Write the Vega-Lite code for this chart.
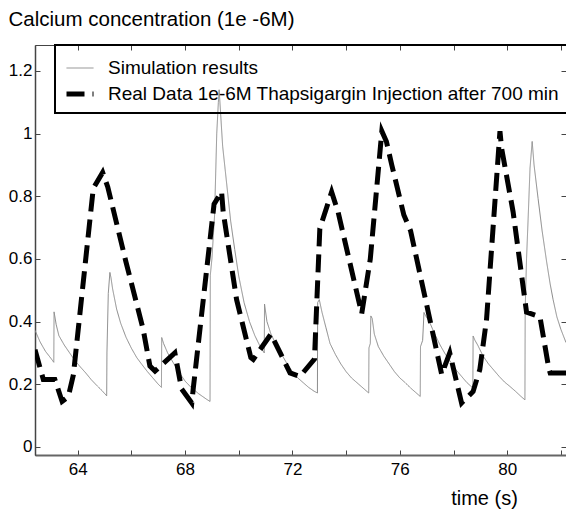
{
  "$schema": "https://vega.github.io/schema/vega-lite/v6.json",
  "width": 531,
  "height": 410,
  "autosize": {"type": "none"},
  "padding": {"left": 35, "top": 45, "right": 0, "bottom": 59},
  "background": "white",
  "config": {
    "font": "Liberation Sans",
    "view": {"stroke": "#444", "strokeWidth": 1},
    "axis": {
      "grid": false,
      "labelFont": "Liberation Sans",
      "labelFontSize": 17,
      "labelColor": "#000",
      "titleFont": "Liberation Sans",
      "titleFontSize": 20,
      "titleFontWeight": "normal",
      "titleColor": "#000",
      "tickColor": "#444",
      "domainColor": "#444",
      "tickSize": -5,
      "tickWidth": 1
    }
  },
  "datasets": {
    "calcium": [
      {"series": "Simulation results", "t": 62.41, "ca": 0.372},
      {"series": "Simulation results", "t": 62.6, "ca": 0.335},
      {"series": "Simulation results", "t": 62.8, "ca": 0.305},
      {"series": "Simulation results", "t": 63.0, "ca": 0.283},
      {"series": "Simulation results", "t": 63.11, "ca": 0.27},
      {"series": "Simulation results", "t": 63.12, "ca": 0.431},
      {"series": "Simulation results", "t": 63.2, "ca": 0.39},
      {"series": "Simulation results", "t": 63.3, "ca": 0.355},
      {"series": "Simulation results", "t": 63.5, "ca": 0.325},
      {"series": "Simulation results", "t": 63.7, "ca": 0.3},
      {"series": "Simulation results", "t": 63.9, "ca": 0.275},
      {"series": "Simulation results", "t": 64.1, "ca": 0.255},
      {"series": "Simulation results", "t": 64.3, "ca": 0.236},
      {"series": "Simulation results", "t": 64.5, "ca": 0.215},
      {"series": "Simulation results", "t": 64.7, "ca": 0.197},
      {"series": "Simulation results", "t": 64.9, "ca": 0.18},
      {"series": "Simulation results", "t": 65.08, "ca": 0.163},
      {"series": "Simulation results", "t": 65.09, "ca": 0.3},
      {"series": "Simulation results", "t": 65.14, "ca": 0.49},
      {"series": "Simulation results", "t": 65.2, "ca": 0.557},
      {"series": "Simulation results", "t": 65.24, "ca": 0.54},
      {"series": "Simulation results", "t": 65.3, "ca": 0.505},
      {"series": "Simulation results", "t": 65.45, "ca": 0.44},
      {"series": "Simulation results", "t": 65.6, "ca": 0.395},
      {"series": "Simulation results", "t": 65.8, "ca": 0.35},
      {"series": "Simulation results", "t": 66.0, "ca": 0.315},
      {"series": "Simulation results", "t": 66.2, "ca": 0.285},
      {"series": "Simulation results", "t": 66.4, "ca": 0.262},
      {"series": "Simulation results", "t": 66.6, "ca": 0.24},
      {"series": "Simulation results", "t": 66.8, "ca": 0.22},
      {"series": "Simulation results", "t": 67.0, "ca": 0.2},
      {"series": "Simulation results", "t": 67.12, "ca": 0.19},
      {"series": "Simulation results", "t": 67.13, "ca": 0.349},
      {"series": "Simulation results", "t": 67.2, "ca": 0.33},
      {"series": "Simulation results", "t": 67.35, "ca": 0.3},
      {"series": "Simulation results", "t": 67.55, "ca": 0.27},
      {"series": "Simulation results", "t": 67.8, "ca": 0.235},
      {"series": "Simulation results", "t": 68.0, "ca": 0.21},
      {"series": "Simulation results", "t": 68.2, "ca": 0.192},
      {"series": "Simulation results", "t": 68.5, "ca": 0.17},
      {"series": "Simulation results", "t": 68.8, "ca": 0.152},
      {"series": "Simulation results", "t": 68.93, "ca": 0.145},
      {"series": "Simulation results", "t": 68.94, "ca": 0.548},
      {"series": "Simulation results", "t": 69.0, "ca": 0.6},
      {"series": "Simulation results", "t": 69.1, "ca": 0.74},
      {"series": "Simulation results", "t": 69.18, "ca": 1.0},
      {"series": "Simulation results", "t": 69.24, "ca": 1.1},
      {"series": "Simulation results", "t": 69.27, "ca": 1.14},
      {"series": "Simulation results", "t": 69.32, "ca": 1.07},
      {"series": "Simulation results", "t": 69.4, "ca": 0.96},
      {"series": "Simulation results", "t": 69.5, "ca": 0.88},
      {"series": "Simulation results", "t": 69.6, "ca": 0.8},
      {"series": "Simulation results", "t": 69.7, "ca": 0.72},
      {"series": "Simulation results", "t": 69.85, "ca": 0.63},
      {"series": "Simulation results", "t": 70.0, "ca": 0.545},
      {"series": "Simulation results", "t": 70.2, "ca": 0.46},
      {"series": "Simulation results", "t": 70.4, "ca": 0.4},
      {"series": "Simulation results", "t": 70.6, "ca": 0.355},
      {"series": "Simulation results", "t": 70.8, "ca": 0.32},
      {"series": "Simulation results", "t": 70.95, "ca": 0.3},
      {"series": "Simulation results", "t": 70.96, "ca": 0.456},
      {"series": "Simulation results", "t": 71.05, "ca": 0.4},
      {"series": "Simulation results", "t": 71.2, "ca": 0.36},
      {"series": "Simulation results", "t": 71.4, "ca": 0.325},
      {"series": "Simulation results", "t": 71.6, "ca": 0.295},
      {"series": "Simulation results", "t": 71.8, "ca": 0.265},
      {"series": "Simulation results", "t": 72.0, "ca": 0.24},
      {"series": "Simulation results", "t": 72.2, "ca": 0.22},
      {"series": "Simulation results", "t": 72.4, "ca": 0.205},
      {"series": "Simulation results", "t": 72.6, "ca": 0.19},
      {"series": "Simulation results", "t": 72.8, "ca": 0.178},
      {"series": "Simulation results", "t": 72.93, "ca": 0.172},
      {"series": "Simulation results", "t": 72.94, "ca": 0.461},
      {"series": "Simulation results", "t": 73.0, "ca": 0.47},
      {"series": "Simulation results", "t": 73.1, "ca": 0.43},
      {"series": "Simulation results", "t": 73.25, "ca": 0.38},
      {"series": "Simulation results", "t": 73.4, "ca": 0.33},
      {"series": "Simulation results", "t": 73.6, "ca": 0.295},
      {"series": "Simulation results", "t": 73.8, "ca": 0.265},
      {"series": "Simulation results", "t": 74.0, "ca": 0.24},
      {"series": "Simulation results", "t": 74.2, "ca": 0.22},
      {"series": "Simulation results", "t": 74.4, "ca": 0.205},
      {"series": "Simulation results", "t": 74.6, "ca": 0.19},
      {"series": "Simulation results", "t": 74.84, "ca": 0.172},
      {"series": "Simulation results", "t": 74.85, "ca": 0.316},
      {"series": "Simulation results", "t": 74.9, "ca": 0.33},
      {"series": "Simulation results", "t": 74.92, "ca": 0.418},
      {"series": "Simulation results", "t": 74.97, "ca": 0.41},
      {"series": "Simulation results", "t": 75.05, "ca": 0.36},
      {"series": "Simulation results", "t": 75.2, "ca": 0.32},
      {"series": "Simulation results", "t": 75.4, "ca": 0.29},
      {"series": "Simulation results", "t": 75.6, "ca": 0.265},
      {"series": "Simulation results", "t": 75.8, "ca": 0.24},
      {"series": "Simulation results", "t": 76.0, "ca": 0.22},
      {"series": "Simulation results", "t": 76.2, "ca": 0.205},
      {"series": "Simulation results", "t": 76.4, "ca": 0.188},
      {"series": "Simulation results", "t": 76.6, "ca": 0.173},
      {"series": "Simulation results", "t": 76.76, "ca": 0.161},
      {"series": "Simulation results", "t": 76.77, "ca": 0.32},
      {"series": "Simulation results", "t": 76.85, "ca": 0.34},
      {"series": "Simulation results", "t": 76.9, "ca": 0.429},
      {"series": "Simulation results", "t": 76.95, "ca": 0.42},
      {"series": "Simulation results", "t": 77.1, "ca": 0.4},
      {"series": "Simulation results", "t": 77.3, "ca": 0.36},
      {"series": "Simulation results", "t": 77.5, "ca": 0.325},
      {"series": "Simulation results", "t": 77.7, "ca": 0.295},
      {"series": "Simulation results", "t": 77.9, "ca": 0.27},
      {"series": "Simulation results", "t": 78.1, "ca": 0.245},
      {"series": "Simulation results", "t": 78.3, "ca": 0.225},
      {"series": "Simulation results", "t": 78.5, "ca": 0.205},
      {"series": "Simulation results", "t": 78.72, "ca": 0.188},
      {"series": "Simulation results", "t": 78.73, "ca": 0.354},
      {"series": "Simulation results", "t": 78.8, "ca": 0.34},
      {"series": "Simulation results", "t": 78.9, "ca": 0.325},
      {"series": "Simulation results", "t": 79.1, "ca": 0.29},
      {"series": "Simulation results", "t": 79.3, "ca": 0.265},
      {"series": "Simulation results", "t": 79.5, "ca": 0.245},
      {"series": "Simulation results", "t": 79.7, "ca": 0.225},
      {"series": "Simulation results", "t": 79.9, "ca": 0.207},
      {"series": "Simulation results", "t": 80.1, "ca": 0.193},
      {"series": "Simulation results", "t": 80.3, "ca": 0.178},
      {"series": "Simulation results", "t": 80.5, "ca": 0.162},
      {"series": "Simulation results", "t": 80.66, "ca": 0.15},
      {"series": "Simulation results", "t": 80.67, "ca": 0.44},
      {"series": "Simulation results", "t": 80.72, "ca": 0.6},
      {"series": "Simulation results", "t": 80.78, "ca": 0.73},
      {"series": "Simulation results", "t": 80.85, "ca": 0.89},
      {"series": "Simulation results", "t": 80.93, "ca": 0.975},
      {"series": "Simulation results", "t": 81.0, "ca": 0.9},
      {"series": "Simulation results", "t": 81.15, "ca": 0.793},
      {"series": "Simulation results", "t": 81.3, "ca": 0.69},
      {"series": "Simulation results", "t": 81.47, "ca": 0.59},
      {"series": "Simulation results", "t": 81.6, "ca": 0.52},
      {"series": "Simulation results", "t": 81.71, "ca": 0.47},
      {"series": "Simulation results", "t": 81.85, "ca": 0.415},
      {"series": "Simulation results", "t": 82.0, "ca": 0.375},
      {"series": "Simulation results", "t": 82.19, "ca": 0.333},

      {"series": "Real Data 1e-6M Thapsigargin Injection after 700 min", "t": 62.41, "ca": 0.31},
      {"series": "Real Data 1e-6M Thapsigargin Injection after 700 min", "t": 62.72, "ca": 0.215},
      {"series": "Real Data 1e-6M Thapsigargin Injection after 700 min", "t": 63.15, "ca": 0.215},
      {"series": "Real Data 1e-6M Thapsigargin Injection after 700 min", "t": 63.42, "ca": 0.145},
      {"series": "Real Data 1e-6M Thapsigargin Injection after 700 min", "t": 63.65, "ca": 0.16},
      {"series": "Real Data 1e-6M Thapsigargin Injection after 700 min", "t": 63.84, "ca": 0.23},
      {"series": "Real Data 1e-6M Thapsigargin Injection after 700 min", "t": 64.58, "ca": 0.825},
      {"series": "Real Data 1e-6M Thapsigargin Injection after 700 min", "t": 64.93, "ca": 0.876},
      {"series": "Real Data 1e-6M Thapsigargin Injection after 700 min", "t": 65.12, "ca": 0.83},
      {"series": "Real Data 1e-6M Thapsigargin Injection after 700 min", "t": 65.8, "ca": 0.59},
      {"series": "Real Data 1e-6M Thapsigargin Injection after 700 min", "t": 66.44, "ca": 0.375},
      {"series": "Real Data 1e-6M Thapsigargin Injection after 700 min", "t": 66.69, "ca": 0.258},
      {"series": "Real Data 1e-6M Thapsigargin Injection after 700 min", "t": 66.88, "ca": 0.242},
      {"series": "Real Data 1e-6M Thapsigargin Injection after 700 min", "t": 67.62, "ca": 0.3},
      {"series": "Real Data 1e-6M Thapsigargin Injection after 700 min", "t": 67.87, "ca": 0.185},
      {"series": "Real Data 1e-6M Thapsigargin Injection after 700 min", "t": 68.25, "ca": 0.14},
      {"series": "Real Data 1e-6M Thapsigargin Injection after 700 min", "t": 68.31, "ca": 0.19},
      {"series": "Real Data 1e-6M Thapsigargin Injection after 700 min", "t": 69.08, "ca": 0.775},
      {"series": "Real Data 1e-6M Thapsigargin Injection after 700 min", "t": 69.36, "ca": 0.815},
      {"series": "Real Data 1e-6M Thapsigargin Injection after 700 min", "t": 69.42, "ca": 0.75},
      {"series": "Real Data 1e-6M Thapsigargin Injection after 700 min", "t": 69.92, "ca": 0.47},
      {"series": "Real Data 1e-6M Thapsigargin Injection after 700 min", "t": 70.45, "ca": 0.285},
      {"series": "Real Data 1e-6M Thapsigargin Injection after 700 min", "t": 70.54, "ca": 0.279},
      {"series": "Real Data 1e-6M Thapsigargin Injection after 700 min", "t": 71.2, "ca": 0.36},
      {"series": "Real Data 1e-6M Thapsigargin Injection after 700 min", "t": 71.91, "ca": 0.236},
      {"series": "Real Data 1e-6M Thapsigargin Injection after 700 min", "t": 72.28, "ca": 0.225},
      {"series": "Real Data 1e-6M Thapsigargin Injection after 700 min", "t": 72.82, "ca": 0.28},
      {"series": "Real Data 1e-6M Thapsigargin Injection after 700 min", "t": 73.02, "ca": 0.697},
      {"series": "Real Data 1e-6M Thapsigargin Injection after 700 min", "t": 73.46, "ca": 0.814},
      {"series": "Real Data 1e-6M Thapsigargin Injection after 700 min", "t": 73.7, "ca": 0.75},
      {"series": "Real Data 1e-6M Thapsigargin Injection after 700 min", "t": 74.58, "ca": 0.425},
      {"series": "Real Data 1e-6M Thapsigargin Injection after 700 min", "t": 74.9, "ca": 0.6},
      {"series": "Real Data 1e-6M Thapsigargin Injection after 700 min", "t": 75.33, "ca": 1.008},
      {"series": "Real Data 1e-6M Thapsigargin Injection after 700 min", "t": 75.5, "ca": 0.975},
      {"series": "Real Data 1e-6M Thapsigargin Injection after 700 min", "t": 75.7, "ca": 0.9},
      {"series": "Real Data 1e-6M Thapsigargin Injection after 700 min", "t": 76.15, "ca": 0.74},
      {"series": "Real Data 1e-6M Thapsigargin Injection after 700 min", "t": 76.4, "ca": 0.69},
      {"series": "Real Data 1e-6M Thapsigargin Injection after 700 min", "t": 77.06, "ca": 0.43},
      {"series": "Real Data 1e-6M Thapsigargin Injection after 700 min", "t": 77.56, "ca": 0.231},
      {"series": "Real Data 1e-6M Thapsigargin Injection after 700 min", "t": 77.86, "ca": 0.3},
      {"series": "Real Data 1e-6M Thapsigargin Injection after 700 min", "t": 78.3, "ca": 0.14},
      {"series": "Real Data 1e-6M Thapsigargin Injection after 700 min", "t": 78.73, "ca": 0.177},
      {"series": "Real Data 1e-6M Thapsigargin Injection after 700 min", "t": 78.98, "ca": 0.247},
      {"series": "Real Data 1e-6M Thapsigargin Injection after 700 min", "t": 79.23, "ca": 0.407},
      {"series": "Real Data 1e-6M Thapsigargin Injection after 700 min", "t": 79.73, "ca": 1.008},
      {"series": "Real Data 1e-6M Thapsigargin Injection after 700 min", "t": 79.79, "ca": 0.954},
      {"series": "Real Data 1e-6M Thapsigargin Injection after 700 min", "t": 80.22, "ca": 0.75},
      {"series": "Real Data 1e-6M Thapsigargin Injection after 700 min", "t": 80.72, "ca": 0.43},
      {"series": "Real Data 1e-6M Thapsigargin Injection after 700 min", "t": 81.22, "ca": 0.415},
      {"series": "Real Data 1e-6M Thapsigargin Injection after 700 min", "t": 81.55, "ca": 0.25},
      {"series": "Real Data 1e-6M Thapsigargin Injection after 700 min", "t": 81.6, "ca": 0.236},
      {"series": "Real Data 1e-6M Thapsigargin Injection after 700 min", "t": 82.19, "ca": 0.236}
    ]
  },
  "data": {"name": "calcium"},
  "layer": [
    {
      "mark": {"type": "line", "clip": true, "strokeCap": "butt", "strokeJoin": "miter"},
      "encoding": {
        "x": {
          "field": "t",
          "type": "quantitative",
          "scale": {"domain": [62.41, 82.19], "nice": false, "zero": false},
          "axis": {
            "orient": "bottom",
            "values": [64, 66, 68, 70, 72, 74, 76, 78, 80, 82],
            "labelExpr": "datum.value % 4 === 0 ? datum.label : ''",
            "labelPadding": 11,
            "domainWidth": 2,
            "domainColor": "#666",
            "title": "time (s)",
            "titleX": 449,
            "titleY": 43,
            "titleAlign": "center",
            "titleBaseline": "middle"
          }
        },
        "y": {
          "field": "ca",
          "type": "quantitative",
          "scale": {"domain": [-0.026, 1.283], "nice": false, "zero": false},
          "axis": {
            "orient": "left",
            "values": [0, 0.2, 0.4, 0.6, 0.8, 1, 1.2],
            "format": "~g",
            "labelPadding": 8,
            "domainWidth": 1.5,
            "title": "Calcium concentration (1e -6M)",
            "titleFontSize": 20.5,
            "titleAngle": 0,
            "titleAlign": "left",
            "titleBaseline": "middle",
            "titleX": -27,
            "titleY": -26
          }
        },
        "color": {
          "field": "series",
          "type": "nominal",
          "scale": {
            "domain": ["Simulation results", "Real Data 1e-6M Thapsigargin Injection after 700 min"],
            "range": ["#8a8a8a", "#000000"]
          },
          "legend": {
            "orient": "none",
            "legendX": 20,
            "legendY": 0,
            "title": null,
            "padding": 9,
            "strokeColor": "#000",
            "labelFont": "Liberation Sans",
            "labelFontSize": 19,
            "labelColor": "#000",
            "labelOffset": 12,
            "labelLimit": 0,
            "rowPadding": -5,
            "symbolType": "stroke",
            "symbolSize": 729,
            "encode": {
              "legend": {"update": {"strokeWidth": {"value": 2}}}
            }
          }
        },
        "strokeDash": {
          "field": "series",
          "type": "nominal",
          "scale": {
            "domain": ["Simulation results", "Real Data 1e-6M Thapsigargin Injection after 700 min"],
            "range": [[1, 0], [18, 8]]
          },
          "legend": null
        },
        "strokeWidth": {
          "field": "series",
          "type": "nominal",
          "scale": {
            "domain": ["Simulation results", "Real Data 1e-6M Thapsigargin Injection after 700 min"],
            "range": [1, 5]
          },
          "legend": null
        }
      }
    },
    {
      "mark": {"type": "line", "opacity": 0},
      "encoding": {
        "x": {
          "field": "t",
          "type": "quantitative",
          "scale": {"domain": [62.41, 82.19], "nice": false, "zero": false},
          "axis": {
            "orient": "top",
            "values": [64, 66, 68, 70, 72, 74, 76, 78, 80, 82],
            "labels": false,
            "domain": false,
            "title": null
          }
        },
        "y": {
          "field": "ca",
          "type": "quantitative",
          "scale": {"domain": [-0.026, 1.283], "nice": false, "zero": false},
          "axis": {
            "orient": "right",
            "values": [0, 0.2, 0.4, 0.6, 0.8, 1, 1.2],
            "labels": false,
            "domain": false,
            "title": null
          }
        },
        "detail": {"field": "series", "type": "nominal"}
      }
    }
  ],
  "resolve": {"axis": {"x": "independent", "y": "independent"}}
}
